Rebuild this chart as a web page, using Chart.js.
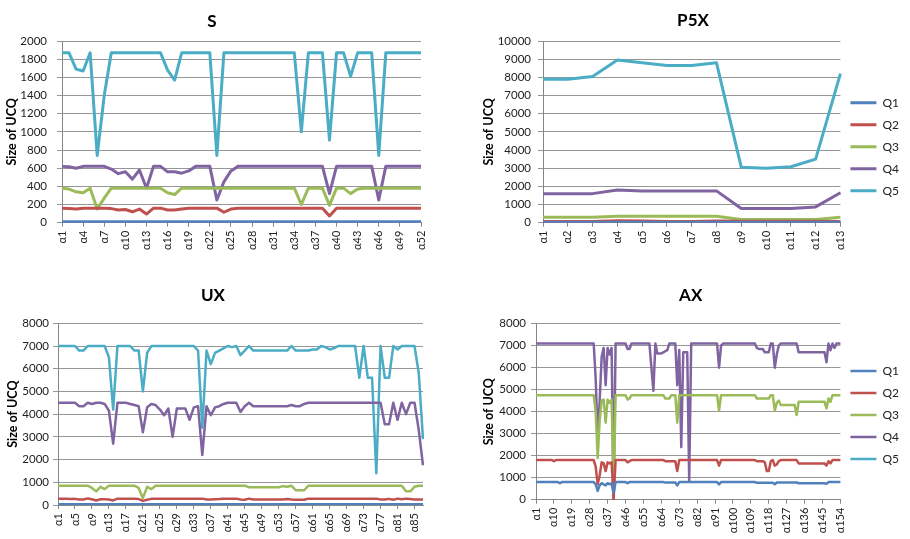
<!DOCTYPE html>
<html>
<head>
<meta charset="utf-8">
<script src="https://cdn.jsdelivr.net/npm/chart.js@4.4.1/dist/chart.umd.min.js"></script>
<style>
    html, body { margin: 0; padding: 0; background: #fff; }
    body { width: 910px; height: 539px; position: relative; overflow: hidden; }
    canvas { position: absolute; }
</style>
</head>
<body>
<canvas id="chart-s" width="450" height="270" style="left:0px;top:0px"></canvas>
<canvas id="chart-p5x" width="460" height="270" style="left:450px;top:0px"></canvas>
<canvas id="chart-ux" width="450" height="269" style="left:0px;top:270px"></canvas>
<canvas id="chart-ax" width="460" height="269" style="left:450px;top:270px"></canvas>
<script>
// 共通設定
const FONT = 'Lato, "Noto Sans", sans-serif';
const seriesNames = ['Q1', 'Q2', 'Q3', 'Q4', 'Q5'];
const seriesColors = ['#4F81BD', '#C0504D', '#9BBB59', '#8064A2', '#4BACC6'];
const gridColor = '#969696';
const axisColor = '#868686';

// カテゴリ名 α1, α2, ...
function makeLabels(count) {
    return Array.from({ length: count }, (_, i) => 'α' + (i + 1));
}

// ---- S ----
const sLabels = makeLabels(52);
const sYTicks = [0, 200, 400, 600, 800, 1000, 1200, 1400, 1600, 1800, 2000];
const sQ1 = [10,10,10,10,10,10,10,10,10,10,10,10,10,
             10,10,10,10,10,10,10,10,10,10,10,10,10,
             10,10,10,10,10,10,10,10,10,10,10,10,10,
             10,10,10,10,10,10,10,10,10,10,10,10,10];
const sQ2 = [160,155,150,160,160,160,160,155,140,145,120,150,95,
             160,160,140,140,150,160,160,160,160,160,115,150,160,
             160,160,160,160,160,160,160,160,160,160,160,160,75,
             160,160,160,160,160,160,160,160,160,160,160,160,160];
const sQ3 = [380,370,340,330,380,150,270,380,380,380,380,380,380,
             380,380,330,310,380,380,380,380,380,380,380,380,380,
             380,380,380,380,380,380,380,380,200,380,380,380,190,
             380,380,320,370,380,380,380,380,380,380,380,380,380];
const sQ4 = [620,615,600,620,620,620,620,590,540,560,480,580,380,
             620,620,560,560,545,570,620,620,620,250,450,570,620,
             620,620,620,620,620,620,620,620,620,620,620,620,320,
             620,620,620,620,620,620,250,620,620,620,620,620,620];
const sQ5 = [1870,1870,1690,1670,1870,740,1400,1870,1870,1870,1870,1870,1870,
             1870,1870,1680,1570,1870,1870,1870,1870,1870,740,1870,1870,1870,
             1870,1870,1870,1870,1870,1870,1870,1870,1000,1870,1870,1870,910,
             1870,1870,1610,1870,1870,1870,740,1870,1870,1870,1870,1870,1870];

// ---- P5X ----
const pLabels = makeLabels(13);
const pYTicks = [0, 1000, 2000, 3000, 4000, 5000, 6000, 7000, 8000, 9000, 10000];
const pQ1 = [20,20,20,20,20,20,20,20,20,20,20,20,20];
const pQ2 = [60,60,60,110,100,60,60,100,80,80,80,80,60];
const pQ3 = [300,300,300,350,350,350,350,350,180,180,180,180,300];
const pQ4 = [1600,1600,1600,1800,1750,1750,1750,1750,780,780,780,870,1650];
const pQ5 = [7900,7900,8050,8950,8800,8650,8650,8800,3050,3000,3080,3500,8200];

// ---- UX ----
const uLabels = makeLabels(87);
const uYTicks = [0, 1000, 2000, 3000, 4000, 5000, 6000, 7000, 8000];
const uQ1 = [30,30,30,30,30,30,30,30,30,30,
             30,30,30,30,30,30,30,30,30,30,
             30,30,30,30,30,30,30,30,30,30,
             30,30,30,30,30,30,30,30,30,30,
             30,30,30,30,30,30,30,30,30,30,
             30,30,30,30,30,30,30,30,30,30,
             30,30,30,30,30,30,30,30,30,30,
             30,30,30,30,30,30,30,30,30,30,
             30,30,30,30,30,30,30];
const uQ2 = [270,270,270,260,270,240,240,290,250,200,
             250,250,240,200,280,280,280,270,270,260,
             180,230,270,280,280,280,280,280,280,280,
             280,280,280,280,280,240,240,250,260,280,
             280,280,280,240,230,280,240,240,240,240,
             240,240,240,240,260,240,230,230,230,280,
             280,280,280,280,280,280,280,280,280,280,
             280,280,280,280,280,280,240,240,270,230,
             280,250,280,260,240,240,240];
const uQ3 = [850,850,850,850,850,850,850,850,750,600,
             800,700,850,850,850,850,850,850,850,750,
             300,800,700,850,850,850,850,850,850,850,
             850,850,850,850,850,850,850,850,850,850,
             850,850,850,850,850,780,780,780,780,780,
             780,780,780,830,800,850,650,650,650,850,
             850,850,850,850,850,850,850,850,850,850,
             850,850,850,850,850,850,850,850,850,850,
             850,850,600,600,800,850,850];
const uQ4 = [4500,4500,4500,4500,4500,4350,4350,4500,4450,4500,
             4500,4450,4150,2700,4500,4500,4500,4450,4400,4350,
             3200,4300,4450,4400,4200,3950,4250,3000,4250,4250,
             4250,3750,4300,4350,2200,4350,3950,4300,4350,4450,
             4500,4500,4500,4100,4350,4500,4350,4350,4350,4350,
             4350,4350,4350,4350,4350,4400,4350,4350,4450,4500,
             4500,4500,4500,4500,4500,4500,4500,4500,4500,4500,
             4500,4500,4500,4500,4500,4500,4500,3550,3550,4500,
             3750,4500,4000,4500,4500,3300,1750];
const uQ5 = [7000,7000,7000,7000,7000,6800,6800,7000,7000,7000,
             7000,7000,6500,4200,7000,7000,7000,7000,6800,6800,
             5000,6700,7000,7000,7000,7000,7000,7000,7000,7000,
             7000,7000,7000,6800,3400,6800,6200,6700,6800,6900,
             7000,6950,7000,6600,6800,7000,6800,6800,6800,6800,
             6800,6800,6800,6800,6800,7000,6800,6800,6800,6800,
             6850,6850,7000,6950,6850,6900,7000,7000,7000,7000,
             7000,5600,7000,5600,5600,1400,7000,5600,5600,7000,
             6850,7000,7000,7000,7000,5800,2900];

// ---- AX ----
const aLabels = makeLabels(154);
const aYTicks = [0, 1000, 2000, 3000, 4000, 5000, 6000, 7000, 8000];
const aQ1 = [800,800,800,800,800,800,800,800,800,800,
             800,800,750,800,800,800,800,800,800,800,
             800,800,800,800,800,800,800,800,800,800,
             700,400,650,750,700,650,750,700,750,300,
             800,800,800,800,800,800,750,800,800,800,
             800,800,800,800,800,800,800,800,800,800,
             800,800,800,800,800,780,780,780,780,780,
             780,650,800,800,800,800,800,800,800,800,
             800,800,800,800,800,800,800,800,800,800,
             800,800,700,800,800,800,800,800,800,800,
             800,800,800,800,800,800,800,800,800,800,
             800,770,770,770,770,770,770,770,770,770,
             700,780,780,780,780,780,780,780,780,780,
             780,780,750,750,750,750,750,750,750,750,
             750,750,750,750,750,750,720,800,800,800,
             800,800,800,800];
const aQ2 = [1800,1800,1800,1800,1800,1800,1800,1800,1800,1750,
             1800,1800,1800,1800,1800,1800,1800,1800,1800,1800,
             1800,1800,1800,1800,1800,1800,1800,1800,1800,1800,
             1500,700,1100,1700,1650,1300,1700,1650,1700,0,
             1800,1800,1800,1800,1800,1800,1700,1750,1800,1800,
             1800,1800,1800,1800,1800,1800,1800,1800,1800,1800,
             1800,1800,1800,1800,1800,1750,1750,1750,1750,1750,
             1750,1300,1800,1800,1800,1800,1800,1800,1800,1800,
             1800,1800,1800,1800,1800,1800,1800,1800,1800,1800,
             1800,1800,1550,1800,1800,1800,1800,1800,1800,1800,
             1800,1800,1800,1800,1800,1800,1800,1800,1800,1800,
             1800,1750,1750,1750,1750,1700,1300,1300,1750,1800,
             1550,1600,1750,1800,1800,1800,1800,1800,1800,1800,
             1800,1800,1650,1650,1650,1650,1650,1650,1650,1650,
             1650,1650,1650,1650,1650,1650,1550,1750,1650,1800,
             1800,1800,1800,1800];
const aQ3 = [4750,4750,4750,4750,4750,4750,4750,4750,4750,4750,
             4750,4750,4750,4750,4750,4750,4750,4750,4750,4750,
             4750,4750,4750,4750,4750,4750,4750,4750,4750,4750,
             4000,1900,3600,4500,4550,3500,4550,4400,4550,300,
             4750,4750,4750,4750,4750,4750,4550,4600,4750,4750,
             4750,4750,4750,4750,4750,4750,4750,4750,4750,4750,
             4750,4750,4750,4750,4750,4600,4600,4600,4750,4750,
             4750,3500,4750,4750,4750,4750,4750,4750,4750,4750,
             4750,4750,4750,4750,4750,4750,4750,4750,4750,4750,
             4750,4750,4050,4750,4750,4750,4750,4750,4750,4750,
             4750,4750,4750,4750,4750,4750,4750,4750,4750,4750,
             4750,4600,4600,4600,4600,4600,4600,4600,4750,4750,
             4050,4400,4500,4300,4300,4300,4300,4300,4300,4300,
             4300,3850,4450,4450,4450,4450,4450,4450,4450,4450,
             4450,4450,4450,4450,4450,4450,4150,4600,4450,4750,
             4750,4750,4750,4750];
const aQ4 = [7100,7100,7100,7100,7100,7100,7100,7100,7100,7100,
             7100,7100,7100,7100,7100,7100,7100,7100,7100,7100,
             7100,7100,7100,7100,7100,7100,7100,7100,7100,7100,
             5500,2800,4500,6500,6900,5200,6900,6600,6900,50,
             7100,7100,7100,7100,7100,7100,6850,6850,7100,7100,
             7100,7100,7100,7100,7100,7100,7100,7100,6000,4950,
             7100,6650,6650,6650,6700,6750,6800,7100,7100,7100,
             7100,5200,6800,2400,6700,6700,6700,850,7100,7100,
             7100,7100,7100,7100,7100,7100,7100,7100,7100,7100,
             7100,7100,6000,7000,7100,7100,7100,7100,7100,7100,
             7100,7100,7100,7100,7100,7100,7100,7100,7100,7100,
             7100,6900,6850,6850,6850,6700,6700,6700,7100,7100,
             6000,6600,7000,7100,7100,7100,7100,7100,7100,7100,
             7100,7100,6700,6700,6700,6700,6700,6700,6700,6700,
             6700,6700,6700,6700,6700,6700,6250,7100,6800,7100,
             6900,7100,7100,7100];
const aQ5 = [];

// グラフの作成
function createPanel(canvasId, opts) {
    const ctx = document.getElementById(canvasId).getContext('2d');
    const datasets = opts.series.map((data, i) => ({
        label: seriesNames[i],
        data: data,
        borderColor: seriesColors[i],
        backgroundColor: seriesColors[i],
        borderWidth: opts.lineWidth,
        borderJoinStyle: 'round',
        pointRadius: 0,
        pointHoverRadius: 0,
        tension: 0
    }));
    const yTicks = opts.yTicks;

    return new Chart(ctx, {
        type: 'line',
        data: { labels: opts.labels, datasets: datasets },
        options: {
            responsive: false,
            animation: false,
            devicePixelRatio: 1,
            layout: { padding: opts.padding },
            plugins: {
                title: {
                    display: true,
                    text: opts.title,
                    color: '#000',
                    font: { family: FONT, size: 17, weight: 'bold' },
                    padding: opts.titlePadding
                },
                legend: opts.legendOffset === undefined ? { display: false } : {
                    display: true,
                    position: 'right',
                    align: 'start',
                    title: {
                        display: true,
                        text: '',
                        font: { family: FONT, size: 10 },
                        padding: { top: opts.legendOffset, bottom: 0 }
                    },
                    labels: {
                        usePointStyle: true,
                        pointStyle: 'line',
                        pointStyleWidth: 26,
                        padding: 10,
                        color: '#222',
                        font: { family: FONT, size: 12 }
                    }
                },
                tooltip: { enabled: false }
            },
            scales: {
                x: {
                    offset: false,
                    grid: { drawOnChartArea: false, drawTicks: true, tickLength: 4, color: axisColor },
                    border: { color: axisColor },
                    ticks: {
                        autoSkip: false,
                        minRotation: 90,
                        maxRotation: 90,
                        padding: 4,
                        color: '#222',
                        font: { family: FONT, size: 11 },
                        callback: function(value, index) {
                            return index % opts.labelStep === 0 ? this.getLabelForValue(value) : null;
                        }
                    },
                    afterFit: function(scale) {
                        scale.height = opts.xHeight;
                        scale.paddingLeft = 0;
                        scale.paddingRight = 0;
                    }
                },
                y: {
                    min: yTicks[0],
                    max: yTicks[yTicks.length - 1],
                    grid: { color: gridColor, tickLength: 5 },
                    border: { color: axisColor },
                    ticks: {
                        stepSize: yTicks[1] - yTicks[0],
                        padding: opts.yTickPadding,
                        color: '#222',
                        font: { family: FONT, size: 11.5 },
                        callback: function(value) {
                            return String(value);
                        }
                    },
                    title: {
                        display: true,
                        text: 'Size of UCQ',
                        color: '#000',
                        font: { family: FONT, size: 12.5, weight: 'bold' },
                        padding: { top: opts.yTitlePadding, bottom: 0 }
                    },
                    afterFit: function(scale) {
                        scale.width = opts.yWidth;
                        scale.paddingTop = 0;
                        scale.paddingBottom = 0;
                    }
                }
            }
        }
    });
}

createPanel('chart-s', {
    title: 'S',
    labels: sLabels,
    labelStep: 3,
    yTicks: sYTicks,
    series: [sQ1, sQ2, sQ3, sQ4, sQ5],
    lineWidth: 3,
    padding: { left: 3, right: 29, top: 0, bottom: 0 },
    titlePadding: { top: 11, bottom: 9.6 },
    yWidth: 59,
    xHeight: 47.3,
    yTickPadding: 10,
    yTitlePadding: 1.2
});

createPanel('chart-p5x', {
    title: 'P5X',
    labels: pLabels,
    labelStep: 1,
    yTicks: pYTicks,
    series: [pQ1, pQ2, pQ3, pQ4, pQ5],
    lineWidth: 3,
    padding: { left: 27, right: 1, top: 0, bottom: 0 },
    titlePadding: { top: 10, bottom: 10.6 },
    yWidth: 66,
    xHeight: 47.3,
    yTickPadding: 7,
    yTitlePadding: 4.8,
    legendOffset: 74.7
});

createPanel('chart-ux', {
    title: 'UX',
    labels: uLabels,
    labelStep: 4,
    yTicks: uYTicks,
    series: [uQ1, uQ2, uQ3, uQ4, uQ5],
    lineWidth: 2.5,
    padding: { left: 3, right: 27, top: 0, bottom: 0 },
    titlePadding: { top: 15.8, bottom: 17.1 },
    yWidth: 55,
    xHeight: 34,
    yTickPadding: 4,
    yTitlePadding: 2.2
});

createPanel('chart-ax', {
    title: 'AX',
    labels: aLabels,
    labelStep: 9,
    yTicks: aYTicks,
    series: [aQ1, aQ2, aQ3, aQ4, aQ5],
    lineWidth: 2.5,
    padding: { left: 22.4, right: 1, top: 0, bottom: 0 },
    titlePadding: { top: 15.8, bottom: 17.5 },
    yWidth: 63.6,
    xHeight: 39.3,
    yTickPadding: 5,
    yTitlePadding: 9.4,
    legendOffset: 73
});
</script>
</body>
</html>
